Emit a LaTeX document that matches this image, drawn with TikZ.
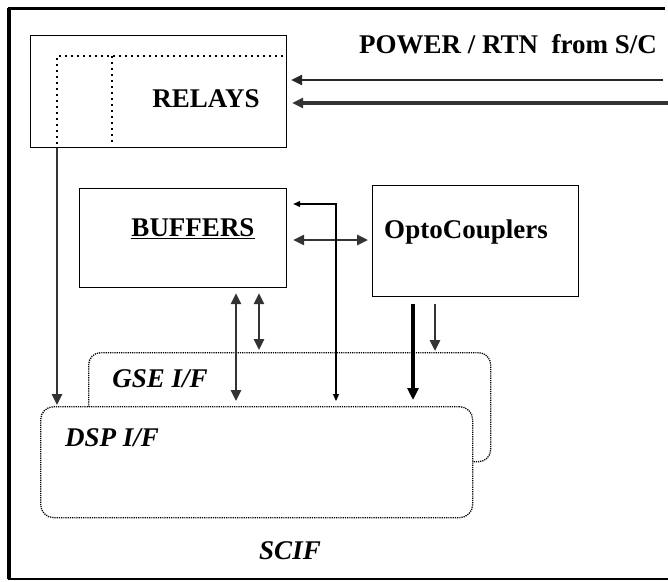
\documentclass[tikz,border=0pt]{standalone}
\usepackage{fontspec}
\setmainfont{Liberation Serif}
\usetikzlibrary{arrows.meta}
\tikzset{
  box/.style={draw, line width=1.2pt, inner sep=0pt, anchor=north west},
  rbox/.style={draw, line width=1.3pt, dash pattern=on 1.2pt off 1pt, inner sep=0pt, anchor=north west, fill=white},
  lbl/.style={font=\fontsize{27}{30}\selectfont\bfseries, inner sep=0pt},
  ilbl/.style={font=\fontsize{27}{30}\selectfont\bfseries\itshape, inner sep=0pt},
  arr/.style={line width=2.6pt, draw=black!80, -{Triangle[length=11pt,width=10pt]}},
  barr/.style={line width=2.6pt, draw=black!80, {Triangle[length=11pt,width=10pt]}-{Triangle[length=11pt,width=10pt]}},
  karr/.style={line width=3.2pt, draw=black, -{Triangle[length=12pt,width=11pt]}},
  tarr/.style={line width=1.1pt, draw=black, {Triangle[length=7pt,width=6pt]}-{Triangle[length=7pt,width=6pt]}},
  dots/.style={line width=2.3pt, dash pattern=on 2pt off 4pt},
}
\begin{document}
\begin{tikzpicture}[x=1pt,y=-1pt]
\useasboundingbox (0,0) rectangle (668,581);
% outer frame
\draw[line width=3.5pt] (9,579) -- (9,8);
\draw[line width=3pt] (7.5,8) -- (665,8);
\draw[line width=2.5pt] (8,579) -- (668,579);

% boxes
\node[box, minimum width=256pt, minimum height=112pt] (relays) at (30,35) {};
\node[lbl] (relaysT) at (206,99) {RELAYS};
\draw[dots] (283,56) -- (57,56) -- (57,145);
\draw[dots] (112,56) -- (112,145);

\node[box, minimum width=207pt, minimum height=99pt] (buf) at (79,188) {};
\node[lbl] (bufT) at (193,229) {\underline{BUFFERS}};

\node[box, minimum width=206pt, minimum height=111pt] (opto) at (372,185) {};
\node[lbl] (optoT) at (466,232) {OptoCouplers};

\node[rbox, minimum width=402pt, minimum height=109pt, rounded corners=12pt] (gse) at (88,352) {};
\node[ilbl] (gseT) at (160,379) {GSE I/F};

\node[rbox, minimum width=432pt, minimum height=111pt, rounded corners=13pt] (dsp) at (40,406) {};
\node[ilbl] (dspT) at (112,438) {DSP I/F};

\node[ilbl] (scif) at (290,551) {SCIF};
\node[lbl] (power) at (508,44) {POWER / RTN \ from S/C};

% power lines
\coordinate (p1) at (663,80);
\coordinate (p2) at (668,103);
\draw[line width=2.4pt, draw=black!85, -{Triangle[length=11pt,width=10pt]}, shorten >=4pt] (p1) -- (relays.east |- p1);
\draw[line width=3.2pt, draw=black!80, -{Triangle[length=11pt,width=10pt]}, shorten >=5pt] (p2) -- (relays.east |- p2);

% relays to DSP
\draw[arr, shorten >=1pt] (relays.south -| 57,0) -- (dsp.north -| 57,0);

% buffers to DSP / GSE
\draw[barr, shorten <=5pt, shorten >=5pt] (buf.south -| 236,0) -- (dsp.north -| 236,0);
\draw[barr, shorten <=5pt, shorten >=2pt] (buf.south -| 259,0) -- (gse.north -| 259,0);

% buffers <-> opto
\draw[barr, shorten <=6pt, shorten >=4pt] (buf.east |- 0,240) -- (opto.west |- 0,240);

% thin connector
\draw[tarr, shorten <=6pt, shorten >=5pt] (buf.east |- 0,204) -| (dsp.north -| 336,0);

% opto to DSP / GSE
\draw[karr, shorten <=7pt, shorten >=6pt] (opto.south -| 413,0) -- (dsp.north -| 413,0);
\draw[arr, shorten <=7pt, shorten >=1pt] (opto.south -| 435,0) -- (gse.north -| 435,0);
\end{tikzpicture}
\end{document}
